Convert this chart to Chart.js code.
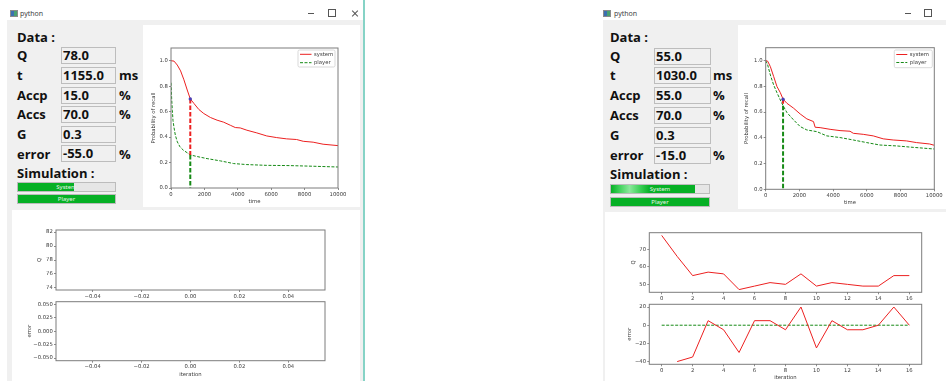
<!DOCTYPE html>
<html>
<head>
<meta charset="utf-8">
<title>python</title>
<script src="https://cdn.jsdelivr.net/npm/chart.js@4.4.1/dist/chart.umd.min.js"></script>
<style>
  html, body { margin:0; padding:0; }
  body { width:946px; height:381px; overflow:hidden; position:relative; background:#fff; }
  .a { position:absolute; }
  .face { position:absolute; background:#f0f0f0; }
  .panel { position:absolute; background:#fff; }
  .ttl { position:absolute; font:7px "Noto Sans", sans-serif; color:#444; line-height:8px; }
  .icon { position:absolute; width:6px; height:5px; border:1px solid #8a8a8a; background:linear-gradient(90deg,#3c6fb0 0 50%,#4aa070 50%); }
  .lbl { position:absolute; font:bold 13px "Open Sans", sans-serif; color:#111; line-height:16px; white-space:nowrap; }
  .box { position:absolute; box-sizing:border-box; height:17px; border:1px solid #bdbdbd; background:#f0f0f0;
         font:bold 13px "Open Sans", sans-serif; line-height:15px; padding-left:1px; color:#111; white-space:nowrap; }
  .bar { position:absolute; box-sizing:border-box; height:10px; border:1px solid #bcbcbc; background:#e6e6e6; overflow:hidden; }
  .bar .fill { position:absolute; left:0; top:0; bottom:0; background:#06b025; }
  .bar .cap { position:absolute; left:0; right:0; top:0; bottom:0; text-align:center; font:6px "Noto Sans", sans-serif; line-height:8px; color:#e6f5e7; }
  .chartbox { position:absolute; }
  .chartbox canvas { display:block; }
</style>
</head>
<body>

<!-- window chrome -->
<div class="face" style="left:7px;top:20px;width:356px;height:361px"></div>
<div class="a" style="left:363px;top:0;width:2px;height:381px;background:#86d3c6"></div>
<div class="face" style="left:603px;top:20px;width:343px;height:361px"></div>

<div class="icon" style="left:10px;top:10px"></div>
<div class="ttl" style="left:20px;top:10px">python</div>
<div class="a" style="left:308px;top:13px;width:6px;height:1px;background:#555"></div>
<div class="a" style="left:328px;top:9px;width:6px;height:6px;border:1px solid #555"></div>
<div class="a" style="left:351px;top:12.5px;width:8px;height:1px;background:#555;transform:rotate(45deg)"></div>
<div class="a" style="left:351px;top:12.5px;width:8px;height:1px;background:#555;transform:rotate(-45deg)"></div>

<div class="icon" style="left:603px;top:10px"></div>
<div class="ttl" style="left:614px;top:10px">python</div>
<div class="a" style="left:905px;top:13px;width:6px;height:1px;background:#555"></div>
<div class="a" style="left:924px;top:9px;width:6px;height:6px;border:1px solid #555"></div>

<!-- figure panels -->
<div class="panel" style="left:143px;top:25px;width:217px;height:182px"></div>
<div class="panel" style="left:12px;top:210px;width:348px;height:171px"></div>
<div class="panel" style="left:738px;top:25px;width:208px;height:184px"></div>
<div class="panel" style="left:605px;top:212px;width:341px;height:169px"></div>

<div id="formL"></div>
<div id="formR"></div>

<div class="chartbox" style="left:143px;top:25px;width:217px;height:182px"><canvas id="recallL"></canvas></div>
<div class="chartbox" style="left:12px;top:213px;width:348px;height:85px"><canvas id="qL"></canvas></div>
<div class="chartbox" style="left:12px;top:298px;width:348px;height:83px"><canvas id="errL"></canvas></div>

<div class="chartbox" style="left:738px;top:25px;width:208px;height:184px"><canvas id="recallR"></canvas></div>
<div class="chartbox" style="left:605px;top:213px;width:341px;height:88px"><canvas id="qR"></canvas></div>
<div class="chartbox" style="left:605px;top:301px;width:341px;height:80px"><canvas id="errR"></canvas></div>

<script>
// ---------- form values ----------
const FIELD_NAMES = ['Q', 't', 'Accp', 'Accs', 'G', 'error'];
const FIELD_UNITS = ['', 'ms', '%', '%', '', '%'];
const FIELDS_L = ['78.0', '1155.0', '15.0', '70.0', '0.3', '-55.0'];
const FIELDS_R = ['55.0', '1030.0', '55.0', '70.0', '0.3', '-15.0'];

// ---------- recall curves, first run ----------
const SYS_T_L = [0, 180, 377, 575, 774, 972, 1155, 1369, 1667, 1964, 2361, 2758, 3155, 3552, 3849, 4147, 4544, 5139, 5734, 6329, 6925, 7520, 7917, 8512, 9107, 10000];
const SYS_P_L = [1.0, 0.997, 0.966, 0.92, 0.85, 0.77, 0.70, 0.665, 0.617, 0.585, 0.554, 0.533, 0.517, 0.493, 0.475, 0.472, 0.454, 0.433, 0.409, 0.396, 0.386, 0.381, 0.367, 0.36, 0.344, 0.333];
const PLY_T_L = [0, 20, 40, 80, 120, 180, 260, 380, 540, 740, 980, 1155, 1570, 2160, 2960, 3750, 4540, 5730, 7120, 8510, 10000];
const PLY_P_L = [0.827, 0.77, 0.70, 0.61, 0.53, 0.475, 0.415, 0.362, 0.323, 0.297, 0.276, 0.26, 0.247, 0.231, 0.213, 0.192, 0.184, 0.178, 0.176, 0.171, 0.165];
const MARK_T_L = 1155, MARK_SYS_L = 0.70, MARK_PLY_L = 0.26;

// ---------- recall curves, second run ----------
const SYS_T_R = [0, 118, 276, 472, 669, 866, 1030, 1260, 1654, 2047, 2441, 2835, 2933, 3228, 3819, 4409, 5000, 5197, 5787, 6378, 6969, 7559, 8346, 8937, 9724, 10000];
const SYS_P_R = [1.0, 0.995, 0.953, 0.876, 0.798, 0.751, 0.70, 0.668, 0.63, 0.585, 0.547, 0.526, 0.482, 0.479, 0.466, 0.456, 0.451, 0.435, 0.427, 0.415, 0.392, 0.383, 0.376, 0.363, 0.352, 0.342];
const PLY_T_R = [0, 118, 276, 472, 669, 866, 1030, 1260, 1654, 2047, 2441, 3031, 3622, 4409, 5197, 5984, 6772, 7756, 8740, 10000];
const PLY_P_R = [1.0, 0.966, 0.888, 0.81, 0.75, 0.694, 0.65, 0.596, 0.539, 0.487, 0.461, 0.448, 0.415, 0.402, 0.383, 0.363, 0.344, 0.337, 0.326, 0.313];
const MARK_T_R = 1030, MARK_SYS_R = 0.70, MARK_PLY_R = 0.65;

// ---------- iteration history ----------
const ITER_Q_L = [0], Q_HIST_L = [78];
const ITER_E_L = [0], ERR_HIST_L = [0];
const ITER_Q_R = [0, 1, 2, 3, 4, 5, 6, 7, 8, 9, 10, 11, 12, 13, 14, 15, 16];
const Q_HIST_R = [78, 66, 55, 57, 56, 47, 49, 51, 50, 56, 49, 51, 50, 49, 49, 55, 55];
const ITER_E_R = [1, 2, 3, 4, 5, 6, 7, 8, 9, 10, 11, 12, 13, 14, 15, 16];
const ERR_HIST_R = [-40, -35, 5, -5, -30, 5, 5, -5, 20, -25, 5, -5, -5, 0, 20, 0];
const ZERO_X_R = [0, 16], ZERO_Y_R = [0, 0];

// ---------- tick labels ----------
const TIME_TICKS = [0, 2000, 4000, 6000, 8000, 10000];
const PROB_TICKS = [0.0, 0.2, 0.4, 0.6, 0.8, 1.0];
const EMPTY_X_TICKS = [-0.04, -0.02, 0.0, 0.02, 0.04];
const EMPTY_Q_TICKS = [74, 76, 78, 80, 82];
const EMPTY_E_TICKS = [-0.05, -0.025, 0.0, 0.025, 0.05];
const ITER_TICKS = [0, 2, 4, 6, 8, 10, 12, 14, 16];
const Q_TICKS_R = [50, 60, 70];
const ERR_TICKS_R = [-40, -20, 0, 20];

// ---------- form widgets ----------
function buildForm(host, g, values) {
  const el = document.getElementById(host);
  const add = (cls, css, text) => {
    const d = document.createElement('div');
    d.className = cls; d.style.cssText = css;
    if (text !== undefined) d.textContent = text;
    el.appendChild(d); return d;
  };
  add('lbl', `left:${g.labelX}px;top:${g.dataY - 8.4}px`, 'Data :');
  FIELD_NAMES.forEach((name, i) => {
    const top = g.boxTops[i];
    add('lbl', `left:${g.labelX}px;top:${top + 0.1}px`, name);
    add('box', `left:${g.boxX}px;top:${top}px;width:${g.boxW}px`, values[i]);
    if (FIELD_UNITS[i]) add('lbl', `left:${g.unitX}px;top:${top + 0.1}px`, FIELD_UNITS[i]);
  });
  add('lbl', `left:${g.labelX}px;top:${g.simY - 8.4}px`, 'Simulation :');
  const bar = (top, frac, caption, glow) => {
    const b = add('bar', `left:${g.barX}px;top:${top}px;width:${g.barW}px`);
    const f = document.createElement('div'); f.className = 'fill';
    f.style.width = (frac * 100) + '%';
    if (glow) f.style.background = 'linear-gradient(90deg,#06b025 0,#3fd15a 10%,#8be89b 22%,#3fd15a 34%,#06b025 46%,#06b025 100%)';
    b.appendChild(f);
    const c = document.createElement('div'); c.className = 'cap'; c.textContent = caption;
    b.appendChild(c);
  };
  bar(g.sysTop, g.sysFrac, 'System', g.glow);
  bar(g.plyTop, 1, 'Player', false);
}

buildForm('formL', { labelX: 17, boxX: 61, boxW: 55, unitX: 119, dataY: 37.7, simY: 173.3,
  boxTops: [47.3, 66.8, 86.6, 106.1, 125.9, 145.4],
  barX: 17, barW: 99, sysTop: 182.3, plyTop: 194.3, sysFrac: 0.58, glow: false }, FIELDS_L);
buildForm('formR', { labelX: 610, boxX: 654, boxW: 57, unitX: 713, dataY: 37.7, simY: 174.7,
  boxTops: [47.5, 67.3, 87.2, 106.9, 126.8, 146.5],
  barX: 610, barW: 100, sysTop: 184.3, plyTop: 196.7, sysFrac: 0.86, glow: true }, FIELDS_R);

// ---------- chart helpers ----------
const DJ = 'DejaVu Sans';
const TXT = '#3a3a3a';
const SMALL = { family: DJ, size: 5.3 };
const RED = 'rgb(236,32,32)';
const GREEN = 'rgb(22,138,22)';

const pts = (xs, ys) => xs.map((x, i) => ({ x, y: ys[i] }));
const fixed = d => v => (v < 0 ? '\u2212' : '') + Math.abs(v).toFixed(d);

// axes box drawn on all four sides
const framePlugin = {
  id: 'frame',
  afterDatasetsDraw(chart) {
    const { ctx, chartArea: a } = chart;
    ctx.save();
    ctx.strokeStyle = '#7c7c7c';
    ctx.lineWidth = 1;
    ctx.strokeRect(a.left, a.top, a.right - a.left, a.bottom - a.top);
    ctx.restore();
  }
};

// boxed legend in the upper-right corner of the plot area
const cornerLegend = {
  id: 'cornerLegend',
  afterDraw(chart, args, o) {
    if (!o || !o.show) return;
    const { ctx, chartArea: a } = chart;
    const items = chart.data.datasets.filter(d => d.inLegend);
    const x = a.right - o.inset - o.width, y = a.top + o.insetTop;
    ctx.save();
    ctx.fillStyle = 'rgba(255,255,255,0.85)';
    ctx.strokeStyle = '#cfcfcf';
    ctx.lineWidth = 0.8;
    ctx.beginPath();
    ctx.roundRect(x, y, o.width, o.height, 1.5);
    ctx.fill(); ctx.stroke();
    ctx.font = `${SMALL.size}px "${DJ}"`;
    ctx.textBaseline = 'middle';
    items.forEach((d, i) => {
      const cy = y + o.row0 + i * o.rowGap;
      ctx.strokeStyle = d.borderColor;
      ctx.lineWidth = d.borderWidth;
      ctx.setLineDash(d.borderDash || []);
      ctx.beginPath(); ctx.moveTo(x + 2, cy); ctx.lineTo(x + o.sample, cy); ctx.stroke();
      ctx.setLineDash([]);
      ctx.fillStyle = TXT;
      ctx.fillText(d.label, x + o.sample + 2.5, cy);
    });
    ctx.restore();
  }
};

function axis(o) {
  const horiz = o.pos === 'bottom';
  return {
    type: 'linear', position: o.pos, min: o.range[0], max: o.range[1],
    afterBuildTicks: s => { s.ticks = o.ticks.map(v => ({ value: v })); },
    afterFit: s => {
      if (horiz) { s.height = o.size; s.paddingLeft = 0; s.paddingRight = 0; }
      else { s.width = o.size; s.paddingTop = 0; s.paddingBottom = 0; }
    },
    ticks: { font: SMALL, color: TXT, padding: 1.2, autoSkip: false, maxRotation: 0, minRotation: 0, callback: o.fmt },
    grid: { display: true, drawOnChartArea: false, drawTicks: true, tickLength: 2, color: '#6e6e6e', lineWidth: 0.8 },
    border: { display: false },
    title: {
      display: !!o.title, text: o.title || '', color: TXT, font: SMALL,
      padding: horiz ? { top: 0, bottom: o.titlePad } : { top: o.titlePad, bottom: 0 }
    }
  };
}

function plot(id, datasets, x, y, pad, legend) {
  return new Chart(document.getElementById(id), {
    type: 'line',
    data: { datasets },
    options: {
      responsive: true, maintainAspectRatio: false, animation: false, devicePixelRatio: 1,
      events: [],
      layout: { padding: { left: 0, top: pad.top, right: pad.right, bottom: 0 } },
      scales: { x: axis(x), y: axis(y) },
      elements: { point: { radius: 0 }, line: { tension: 0 } },
      plugins: { legend: { display: false }, tooltip: { enabled: false }, cornerLegend: legend || { show: false } }
    },
    plugins: [framePlugin, cornerLegend]
  });
}

function recallSets(sysT, sysP, plyT, plyP, t, sysAt, plyAt) {
  return [
    { label: 'mark', data: [{ x: t, y: sysAt }], showLine: false, pointRadius: 1.7,
      pointBackgroundColor: '#4a3fb5', pointBorderColor: '#4a3fb5', pointBorderWidth: 0 },
    { label: 'sys-drop', data: pts([t, t], [sysAt, plyAt]), borderColor: RED, borderWidth: 2, borderDash: [4.5, 2] },
    { label: 'ply-drop', data: pts([t, t], [plyAt, 0]), borderColor: GREEN, borderWidth: 2, borderDash: [4.5, 2] },
    { label: 'system', inLegend: true, data: pts(sysT, sysP), borderColor: RED, borderWidth: 1 },
    { label: 'player', inLegend: true, data: pts(plyT, plyP), borderColor: GREEN, borderWidth: 1, borderDash: [3, 1.5] }
  ];
}

// ---------- probability of recall ----------
plot('recallL', recallSets(SYS_T_L, SYS_P_L, PLY_T_L, PLY_P_L, MARK_T_L, MARK_SYS_L, MARK_PLY_L),
  { pos: 'bottom', range: [0, 10000], ticks: TIME_TICKS, fmt: fixed(0), size: 19, title: 'time', titlePad: 2.7 },
  { pos: 'left', range: [0, 1.1], ticks: PROB_TICKS, fmt: fixed(1), size: 28, title: 'Probability of recall', titlePad: 7 },
  { top: 23, right: 22 },
  { show: true, width: 37, height: 17, inset: 3, insetTop: 2, row0: 4.3, rowGap: 8.4, sample: 13.5 });

plot('recallR', recallSets(SYS_T_R, SYS_P_R, PLY_T_R, PLY_P_R, MARK_T_R, MARK_SYS_R, MARK_PLY_R),
  { pos: 'bottom', range: [0, 10000], ticks: TIME_TICKS, fmt: fixed(0), size: 19.7, title: 'time', titlePad: 3 },
  { pos: 'left', range: [0, 1.1], ticks: PROB_TICKS, fmt: fixed(1), size: 27.7, title: 'Probability of recall', titlePad: 5.4 },
  { top: 22.7, right: 11.7 },
  { show: true, width: 38, height: 17.7, inset: 2, insetTop: 2.3, row0: 4.5, rowGap: 8, sample: 13 });

// ---------- Q / error per iteration, first run ----------
plot('qL', [{ label: 'Q', data: pts(ITER_Q_L, Q_HIST_L), borderColor: RED, borderWidth: 1 }],
  { pos: 'bottom', range: [-0.055, 0.055], ticks: EMPTY_X_TICKS, fmt: fixed(2), size: 8 },
  { pos: 'left', range: [73.71, 82.29], ticks: EMPTY_Q_TICKS, fmt: fixed(0), size: 44, title: 'Q', titlePad: 24 },
  { top: 17, right: 35 });

plot('errL', [{ label: 'error', data: pts(ITER_E_L, ERR_HIST_L), borderColor: RED, borderWidth: 1 }],
  { pos: 'bottom', range: [-0.055, 0.055], ticks: EMPTY_X_TICKS, fmt: fixed(2), size: 20.3, title: 'iteration', titlePad: 3.7 },
  { pos: 'left', range: [-0.055, 0.055], ticks: EMPTY_E_TICKS, fmt: fixed(3), size: 44, title: 'error', titlePad: 14 },
  { top: 3.7, right: 35 });

// ---------- Q / error per iteration, second run ----------
plot('qR', [{ label: 'Q', data: pts(ITER_Q_R, Q_HIST_R), borderColor: RED, borderWidth: 1 }],
  { pos: 'bottom', range: [-0.8, 16.8], ticks: ITER_TICKS, fmt: fixed(0), size: 8.7 },
  { pos: 'left', range: [45.45, 79.55], ticks: Q_TICKS_R, fmt: fixed(0), size: 44.3, title: 'Q', titlePad: 25.7 },
  { top: 19.7, right: 24.3 });

plot('errR', [
    { label: 'error', data: pts(ITER_E_R, ERR_HIST_R), borderColor: RED, borderWidth: 1 },
    { label: 'target', data: pts(ZERO_X_R, ZERO_Y_R), borderColor: GREEN, borderWidth: 1, borderDash: [3, 1.5] }
  ],
  { pos: 'bottom', range: [-0.8, 16.8], ticks: ITER_TICKS, fmt: fixed(0), size: 16.7, title: 'iteration', titlePad: 0.4 },
  { pos: 'left', range: [-43, 23], ticks: ERR_TICKS_R, fmt: fixed(0), size: 44.3, title: 'error', titlePad: 21.7 },
  { top: 3.3, right: 24.3 });
</script>
</body>
</html>
